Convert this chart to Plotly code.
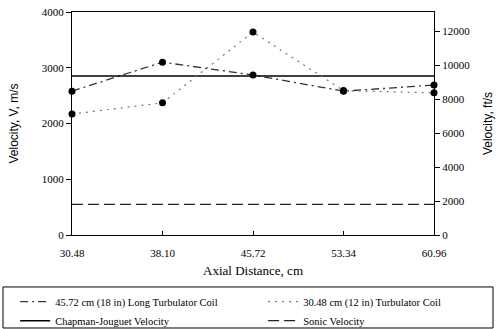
import plotly.graph_objects as go

# Data
axial_cm = [30.48, 38.10, 45.72, 53.34, 60.96]
tick_labels = ["30.48", "38.10", "45.72", "53.34", "60.96"]
long_coil = [2580, 3100, 2870, 2580, 2690]
short_coil = [2170, 2370, 3640, 2590, 2550]
cj_velocity = [2850, 2850, 2850, 2850, 2850]
sonic_velocity = [550, 550, 550, 550, 550]
left_ticks = [0, 1000, 2000, 3000, 4000]
right_ticks = [0, 2000, 4000, 6000, 8000, 10000, 12000]
right_tick_labels = ["0", "2000", "4000", "6000", "8000", "10000", "12000"]
M_TO_FT = 3.28084

FONT = "Liberation Serif"
SANS = "Liberation Sans"
LONG_DASH = "8px,4px,2px,4px"
SHORT_DASH = "2px,5px"
SONIC_DASH = "11px,5px"

fig = go.Figure()
# Legend lines (left column: legend, right column: legend2)
fig.add_trace(go.Scatter(
    x=axial_cm, y=long_coil, mode="lines",
    name="45.72 cm (18 in) Long Turbulator Coil", legend="legend",
    line=dict(color="#333333", width=1.3, dash=LONG_DASH)))
fig.add_trace(go.Scatter(
    x=axial_cm, y=cj_velocity, mode="lines",
    name="Chapman-Jouguet Velocity", legend="legend",
    line=dict(color="black", width=1.5)))
fig.add_trace(go.Scatter(
    x=axial_cm, y=short_coil, mode="lines",
    name="30.48 cm (12 in) Turbulator Coil", legend="legend2",
    line=dict(color="#777777", width=1.2, dash=SHORT_DASH)))
fig.add_trace(go.Scatter(
    x=axial_cm, y=sonic_velocity, mode="lines",
    name="Sonic Velocity", legend="legend2",
    line=dict(color="#222222", width=1.3, dash=SONIC_DASH)))
# Markers
fig.add_trace(go.Scatter(
    x=axial_cm, y=long_coil, mode="markers", showlegend=False,
    marker=dict(color="black", size=7), cliponaxis=False))
fig.add_trace(go.Scatter(
    x=axial_cm, y=short_coil, mode="markers", showlegend=False,
    marker=dict(color="black", size=7), cliponaxis=False))
# invisible trace to activate the ft/s axis
fig.add_trace(go.Scatter(
    x=axial_cm, y=[v * M_TO_FT for v in cj_velocity], yaxis="y2",
    mode="lines", line=dict(width=0, color="rgba(0,0,0,0)"),
    showlegend=False, hoverinfo="skip"))

legend_common = dict(
    orientation="v", yanchor="top", xanchor="left",
    bgcolor="rgba(0,0,0,0)", borderwidth=0, tracegroupgap=0,
    font=dict(family=FONT, size=10.5), itemwidth=30)

fig.update_layout(
    width=499, height=329,
    margin=dict(l=72, r=65, t=12, b=94, autoexpand=False),
    paper_bgcolor="white", plot_bgcolor="white",
    font=dict(family=FONT, size=10, color="black"),
    xaxis=dict(
        range=[30.48, 60.96], tickvals=axial_cm, ticktext=tick_labels,
        showline=True, linecolor="black", linewidth=1, mirror=True,
        ticks="inside", ticklen=4, tickcolor="black",
        ticklabelstandoff=8,
        showgrid=False, zeroline=False,
        tickfont=dict(family=FONT, size=11),
        title=dict(text="Axial Distance, cm", font=dict(family=FONT, size=13), standoff=7)),
    yaxis=dict(
        range=[0, 4000], tickvals=left_ticks,
        showline=True, linecolor="black", linewidth=1,
        ticks="outside", ticklen=5, tickcolor="black",
        showgrid=False, zeroline=False,
        tickfont=dict(family=FONT, size=11),
        title=dict(text="Velocity, V, m/s", font=dict(family=SANS, size=12), standoff=20)),
    yaxis2=dict(
        overlaying="y", side="right",
        range=[0, 4000 * M_TO_FT], tickvals=right_ticks, ticktext=right_tick_labels,
        showline=True, linecolor="black", linewidth=1,
        ticks="outside", ticklen=5, tickcolor="black",
        showgrid=False, zeroline=False,
        tickfont=dict(family=FONT, size=11),
        title=dict(text="Velocity, ft/s", font=dict(family=SANS, size=12), standoff=14)),
    legend=dict(x=-0.157, y=-0.234, **legend_common),
    legend2=dict(x=0.528, y=-0.234, **legend_common),
    shapes=[dict(type="rect", xref="paper", yref="paper",
                 x0=-0.1906, x1=1.163, y0=-0.233, y1=-0.417,
                 line=dict(color="black", width=1))],
)

fig.write_html("out.html")
